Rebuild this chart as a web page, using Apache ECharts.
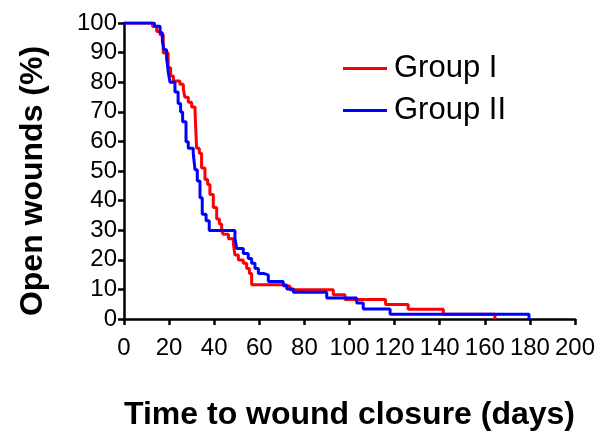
<!DOCTYPE html>
<html>
<head>
<meta charset="utf-8">
<script src="https://cdn.jsdelivr.net/npm/echarts@6/dist/echarts.min.js"></script>
<style>
html,body{margin:0;padding:0;background:#fff;}
#chart{width:601px;height:436px;}
</style>
</head>
<body>
<div id="chart"></div>
<script>
const xTicks = [0, 20, 40, 60, 80, 100, 120, 140, 160, 180, 200];
const yTicks = [0, 10, 20, 30, 40, 50, 60, 70, 80, 90, 100];
const seriesNames = ['Group I', 'Group II'];

const groupIDays = [0, 12.7, 14.5, 16, 17.4, 19.6, 20.7, 21.9, 24.8, 26.3, 27, 28.5, 30, 31.5, 32.2, 33.4, 34.4, 35.9, 37.1, 38.1, 39.6, 41.1, 42.3, 43.3, 44, 46.3, 48.5, 49.2, 50.7, 52.9, 54.4, 55.6, 56.6, 71.4, 73.6, 92.8, 98, 116, 126, 141.6, 164.5];
const groupIValues = [100, 98.8, 97.1, 96, 89.9, 84.9, 82.1, 80.4, 79.3, 77.7, 74.9, 73.2, 71.6, 69.9, 57.7, 56, 51, 47.1, 45.4, 42.1, 37.7, 33.8, 32.1, 29.9, 28.6, 27.1, 25.4, 21.6, 19.9, 18.8, 17.1, 15.4, 11.6, 11, 9.9, 8.2, 6.6, 4.9, 3.3, 1.6, 0];

const groupIIDays = [0, 13.5, 16, 17, 17.7, 18.9, 19.7, 20.4, 22.6, 24, 25.1, 26, 27.5, 28.5, 30.7, 31.5, 32.5, 33.7, 34.7, 36.4, 37.8, 49.2, 50, 52.9, 55.1, 56.6, 58.1, 59.6, 61.8, 64, 70.6, 72.2, 75.1, 89.9, 103.2, 106.1, 118, 179.6];
const groupIIValues = [100, 98.9, 96.7, 93.9, 91, 88, 83, 80, 76.7, 72.8, 69.9, 66.6, 59.9, 57.7, 56, 50.4, 46.6, 41, 35.4, 33.2, 29.9, 27.1, 23.8, 22.1, 20.4, 18.8, 17.1, 15.4, 14.9, 12.7, 11.2, 10.1, 9, 7.1, 5.4, 3.4, 1.6, 0];

function pairs(days, vals) { return days.map((d, i) => [d, vals[i]]); }

const font = 'Liberation Sans, Arial, sans-serif';
const chart = echarts.init(document.getElementById('chart'), null, {renderer: 'canvas'});
chart.setOption({
  animation: false,
  backgroundColor: '#fff',
  grid: {left: 124, right: 26, top: 23, bottom: 113, containLabel: false},
  legend: {
    left: 338, top: 48, orient: 'vertical',
    itemWidth: 44, itemHeight: 3, itemGap: 11, icon: 'rect',
    textStyle: {fontFamily: font, fontSize: 31, color: '#000', lineHeight: 31, padding: [0, 0, 0, 2]},
    data: seriesNames
  },
  xAxis: {
    type: 'value', min: xTicks[0], max: xTicks[xTicks.length - 1], interval: 20,
    name: 'Time to wound closure (days)', nameLocation: 'middle', nameGap: 80,
    nameTextStyle: {fontFamily: font, fontSize: 32, fontWeight: 'bold', color: '#000'},
    axisLine: {show: true, lineStyle: {color: '#000', width: 2.5}},
    axisTick: {show: true, length: 6, lineStyle: {color: '#000', width: 2.5}},
    axisLabel: {fontFamily: font, fontSize: 24, color: '#000', margin: 17},
    splitLine: {show: false}
  },
  yAxis: {
    type: 'value', min: yTicks[0], max: yTicks[yTicks.length - 1], interval: 10,
    name: 'Open wounds (%)', nameLocation: 'middle', nameGap: 75,
    nameTextStyle: {fontFamily: font, fontSize: 32, fontWeight: 'bold', color: '#000', padding: [0, 20, 0, 0]},
    axisLine: {show: true, lineStyle: {color: '#000', width: 2.5}},
    axisTick: {show: true, length: 6, lineStyle: {color: '#000', width: 2.5}},
    axisLabel: {fontFamily: font, fontSize: 24, color: '#000', margin: 7},
    splitLine: {show: false}
  },
  series: [
    {name: seriesNames[0], type: 'line', step: 'end', showSymbol: false, symbol: 'none',
     data: pairs(groupIDays, groupIValues), itemStyle: {color: '#ff0000'},
     lineStyle: {color: '#ff0000', width: 3}},
    {name: seriesNames[1], type: 'line', step: 'end', showSymbol: false, symbol: 'none',
     data: pairs(groupIIDays, groupIIValues), itemStyle: {color: '#0000ff'},
     lineStyle: {color: '#0000ff', width: 3}}
  ]
});
</script>
</body>
</html>
